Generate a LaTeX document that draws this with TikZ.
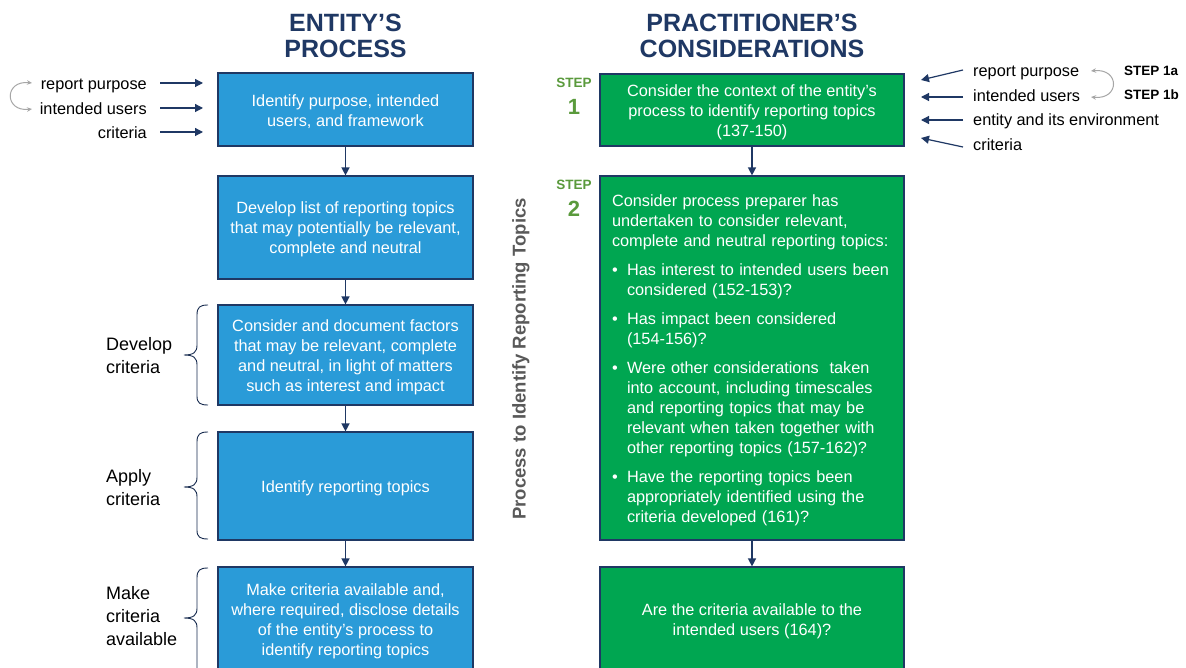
\documentclass[tikz,border=0pt]{standalone}
\usepackage{fontspec}
\setmainfont{Liberation Sans}
\usetikzlibrary{arrows.meta}
\definecolor{navy}{HTML}{1F3864}
\definecolor{boxblue}{HTML}{2A9BD8}
\definecolor{boxgreen}{HTML}{00A651}
\definecolor{stepgreen}{HTML}{5A9A3C}
\definecolor{vgray}{HTML}{595959}
\definecolor{lgray}{HTML}{A6A6A6}
\newcommand\bul{\makebox[15pt][l]{\textbullet}}
\newcommand\ind{\hspace*{15pt}}
\newcommand\topfix{\rule{0pt}{16pt}}
\begin{document}
\begin{tikzpicture}[x=1pt,y=-1pt,
  bodyfont/.style={font=\fontsize{16.3}{20}\selectfont},
  bluebox/.style={draw=navy, line width=1.2pt, fill=boxblue, text=white, minimum width=255pt, inner sep=0pt, align=center, bodyfont},
  greenbox/.style={draw=navy, line width=1.2pt, fill=boxgreen, text=white, minimum width=304pt, inner sep=0pt, align=center, bodyfont},
  title/.style={font=\fontsize{25}{26}\selectfont\bfseries, text=navy, align=center},
  lbl/.style={bodyfont, text=black, inner sep=0pt},
  sidelbl/.style={font=\fontsize{18}{23}\selectfont, text=black, align=left, inner sep=0pt},
  steplbl/.style={font=\fontsize{13.5}{15}\selectfont\bfseries, text=stepgreen, inner sep=0pt},
  stepnum/.style={font=\fontsize{22}{24}\selectfont\bfseries, text=stepgreen, inner sep=0pt},
  flow/.style={draw=navy, line width=1.4pt, -{Triangle[length=8pt,width=8pt]}},
  cyc/.style={draw=lgray, line width=1pt, {Stealth[length=5pt,width=4.5pt]}-{Stealth[length=5pt,width=4.5pt]}},
  brc/.style={draw=navy!80!black, line width=0.9pt}
]
\clip (0,0) rectangle (1186,668);
\fill[white] (0,0) rectangle (1186,668);

% titles
\node[title] (t1) at (345.5,36) {ENTITY’S\\PROCESS};
\node[title] (t2) at (752,36) {PRACTITIONER’S\\CONSIDERATIONS};

% left column boxes
\node[bluebox, minimum height=73pt] (b1) at (345.5,109.5) {\topfix Identify purpose, intended\\users, and framework};
\node[bluebox, minimum height=103pt] (b2) at (345.5,227.5) {\topfix Develop list of reporting topics\\that may potentially be relevant,\\complete and neutral};
\node[bluebox, minimum height=100pt] (b3) at (345.5,355) {\topfix Consider and document factors\\that may be relevant, complete\\and neutral, in light of matters\\such as interest and impact};
\node[bluebox, minimum height=108pt] (b4) at (345.5,486) {\topfix Identify reporting topics};
\node[bluebox, minimum height=104pt] (b5) at (345.5,619) {\topfix Make criteria available and,\\where required, disclose details\\of the entity’s process to\\identify reporting topics};

\draw[flow] (b1.south) -- (b2.north);
\draw[flow] (b2.south) -- (b3.north);
\draw[flow] (b3.south) -- (b4.north);
\draw[flow] (b4.south) -- (b5.north);

% right column boxes
\node[greenbox, minimum height=72pt] (g1) at (752,110) {\topfix Consider the context of the entity’s\\process to identify reporting topics\\(137-150)};
\node[greenbox, minimum height=364pt, text width=280pt, align=left] (g2) at (752,358) {%
\topfix Consider process preparer has\\
undertaken to consider relevant,\\
complete and neutral reporting topics:\\[9pt]
\bul Has interest to intended users been\\
\ind considered (152-153)?\\[9pt]
\bul Has impact been considered\\
\ind (154-156)?\\[9pt]
\bul Were other considerations\ \ taken\\
\ind into account, including timescales\\
\ind and reporting topics that may be\\
\ind relevant when taken together with\\
\ind other reporting topics (157-162)?\\[9pt]
\bul Have the reporting topics been\\
\ind appropriately identified using the\\
\ind criteria developed (161)?};
\node[greenbox, minimum height=105pt] (g3) at (752,619.5) {\topfix Are the criteria available to the\\intended users (164)?};

\draw[flow] (g1.south) -- (g2.north);
\draw[flow] (g2.south) -- (g3.north);

% step labels
\node[steplbl, anchor=base] (s1) at (574,88) {STEP};
\node[stepnum, anchor=base] (n1) at (574,115) {1};
\node[steplbl, anchor=base] (s2) at (574,190) {STEP};
\node[stepnum, anchor=base] (n2) at (574,217) {2};

% vertical label
\node[rotate=90, anchor=base, font=\fontsize{18.5}{20}\selectfont\bfseries, text=vgray, inner sep=0pt] (vt) at (525.5,359) {Process to Identify Reporting Topics};

% left inputs
\node[lbl, anchor=base east] (lrp) at (147,90) {report purpose};
\node[lbl, anchor=base east] (liu) at (147,114.5) {intended users};
\node[lbl, anchor=base east] (lcr) at (147,139) {criteria};
\coordinate (la1) at (160,83); \coordinate (lb1) at (203,83);
\coordinate (la2) at (160,108); \coordinate (lb2) at (203,108);
\coordinate (la3) at (160,132); \coordinate (lb3) at (203,132);
\draw[flow, line width=1.2pt] (la1) -- (lb1);
\draw[flow, line width=1.2pt] (la2) -- (lb2);
\draw[flow, line width=1.2pt] (la3) -- (lb3);
\coordinate (lc1) at (32,83); \coordinate (lc2) at (32,109);
\draw[cyc] (lc1) .. controls (4,80) and (4,112) .. (lc2);

% right inputs
\node[lbl, anchor=base west] (rrp) at (973,77) {report purpose};
\node[lbl, anchor=base west] (riu) at (973,102) {intended users};
\node[lbl, anchor=base west] (ren) at (973,126) {entity and its environment};
\node[lbl, anchor=base west] (rcr) at (973,151) {criteria};
\coordinate (ra1) at (963,70); \coordinate (rb1) at (921,80);
\coordinate (ra2) at (963,97); \coordinate (rb2) at (921,97);
\coordinate (ra3) at (963,120); \coordinate (rb3) at (921,120);
\coordinate (ra4) at (963,147); \coordinate (rb4) at (921,138);
\draw[flow, line width=1.2pt] (ra1) -- (rb1);
\draw[flow, line width=1.2pt] (ra2) -- (rb2);
\draw[flow, line width=1.2pt] (ra3) -- (rb3);
\draw[flow, line width=1.2pt] (ra4) -- (rb4);
\coordinate (rc1) at (1091,71); \coordinate (rc2) at (1091,97);
\draw[cyc] (rc1) .. controls (1120,68) and (1120,100) .. (rc2);
\node[steplbl, text=black, anchor=base west] (s1a) at (1124,76) {STEP 1a};
\node[steplbl, text=black, anchor=base west] (s1b) at (1124,100) {STEP 1b};

% side labels and braces
\node[sidelbl, anchor=west] (dc) at (106,356) {Develop\\criteria};
\node[sidelbl, anchor=west] (ac) at (106,488) {Apply\\criteria};
\node[sidelbl, anchor=west] (mc) at (106,616) {Make\\criteria\\available};

\draw[brc] (208,305) .. controls (200,305) and (197,307) .. (197,315) -- (197,345)
  .. controls (197,352) and (194,355) .. (184,355)
  .. controls (194,355) and (197,358) .. (197,365) -- (197,396)
  .. controls (197,403) and (200,405) .. (208,405);
\draw[brc] (208,432) .. controls (200,432) and (197,434) .. (197,442) -- (197,477)
  .. controls (197,484) and (194,487) .. (184,487)
  .. controls (194,487) and (197,490) .. (197,497) -- (197,530)
  .. controls (197,537) and (200,539) .. (208,539);
\draw[brc] (208,568) .. controls (200,568) and (197,570) .. (197,578) -- (197,608)
  .. controls (197,615) and (194,618) .. (184,618)
  .. controls (194,618) and (197,621) .. (197,628) -- (197,680);
\end{tikzpicture}
\end{document}
